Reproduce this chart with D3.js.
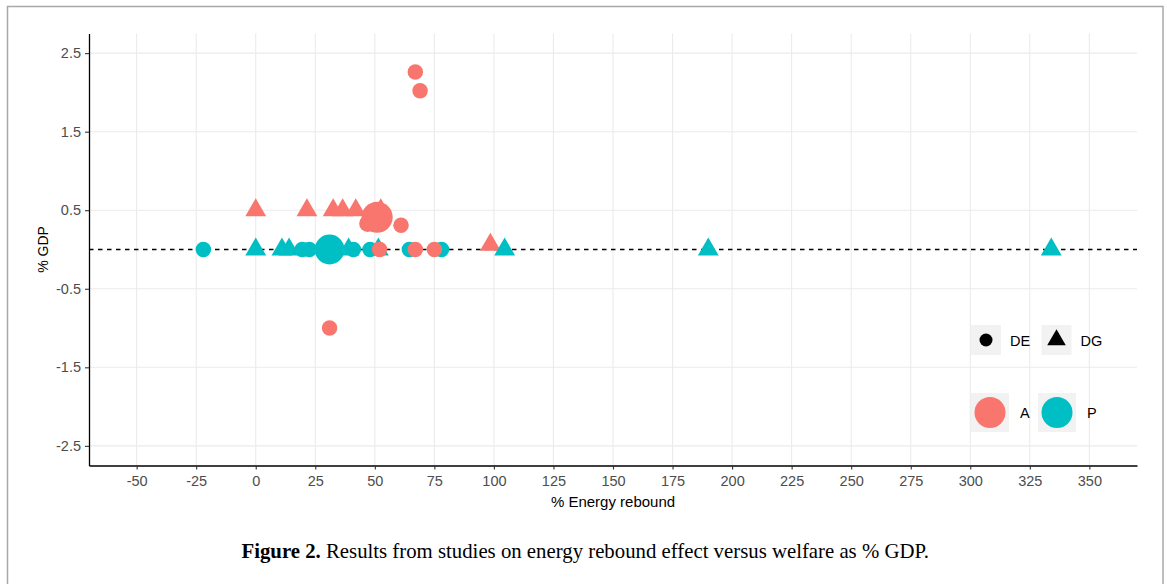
<!DOCTYPE html>
<html>
<head>
<meta charset="utf-8">
<script src="https://cdn.jsdelivr.net/npm/d3@7"></script>
<style>
    body { margin: 0; background: #fff; }
    svg { display: block; }
    .tick text { font-family: "Liberation Sans", Arial, sans-serif; }
</style>
</head>
<body>
<svg id="chart" width="1167" height="584"></svg>
<script>
// Values. Order matters: later rows are drawn on top.
const rebound = [98.5, -22, 0, 11, 14, 19.5, 22.5, 31, 39, 41, 48, 51.5, 64.5, 78, 104.5, 190, 334,
                 67, 69, 0, 21.5, 32.5, 36.5, 42, 52.5, 47, 51, 61, 31, 52, 67, 75];
const gdp     = [0.06, 0, 0, 0, 0, 0, 0, 0, 0, 0, 0, 0, 0, 0, 0, 0, 0,
                 2.26, 2.02, 0.5, 0.5, 0.5, 0.5, 0.5, 0.5, 0.33, 0.41, 0.31, -1, 0, 0, 0];
const group   = ["A", "P", "P", "P", "P", "P", "P", "P", "P", "P", "P", "P", "P", "P", "P", "P", "P",
                 "A", "A", "A", "A", "A", "A", "A", "A", "A", "A", "A", "A", "A", "A", "A"];
const model   = ["DG", "DE", "DG", "DG", "DG", "DE", "DE", "DE", "DG", "DE", "DE", "DG", "DE", "DE", "DG", "DG", "DG",
                 "DE", "DE", "DG", "DG", "DG", "DG", "DG", "DG", "DE", "DE", "DE", "DE", "DE", "DE", "DE"];
const weight  = [1, 1, 1, 1, 1, 1, 1, 3.7, 1, 1, 1, 1, 1, 1, 1, 1, 1,
                 1, 1, 1, 1, 1, 1, 1, 1, 1.2, 4, 1, 1, 1, 1, 1];

const xTicks = [-50, -25, 0, 25, 50, 75, 100, 125, 150, 175, 200, 225, 250, 275, 300, 325, 350];
const yTicks = [-2.5, -1.5, -0.5, 0.5, 1.5, 2.5];
const shapeKeys = ["DE", "DG"];
const colorKeys = ["A", "P"];
const colors = {A: "#F8766D", P: "#00BFC4"};

const points = rebound.map((v, i) => ({x: v, y: gdp[i], group: group[i], model: model[i], w: weight[i]}));

const svg = d3.select("#chart");
const panel = {left: 89, right: 1137, top: 33.5, bottom: 465.5};

const xScale = d3.scaleLinear().domain([-70, 370]).range([panel.left, panel.right]);
const yScale = d3.scaleLinear().domain([-2.75, 2.75]).range([panel.bottom, panel.top]);
const rScale = d3.scaleSqrt().domain([0, 4]).range([0, 15.5]);

// Area of a d3 triangle whose circumradius is 1.555 x the circle radius (like R's pch 17).
const triArea = r => Math.pow(1.555 * r / 2, 2) * 3 * Math.sqrt(3);

// Outer frame of the figure
svg.append("rect")
    .attr("x", 7.5).attr("y", 6.5)
    .attr("width", 1155.5).attr("height", 600)
    .attr("fill", "none")
    .attr("stroke", "#a8a8a8")
    .attr("stroke-width", 1.5);

// Grid
const grid = svg.append("g");
grid.selectAll(".vgrid").data(xTicks).join("line")
    .attr("x1", d => xScale(d)).attr("x2", d => xScale(d))
    .attr("y1", panel.top).attr("y2", panel.bottom)
    .attr("stroke", "#ebebeb").attr("stroke-width", 1.1);
grid.selectAll(".hgrid").data(yTicks).join("line")
    .attr("x1", panel.left).attr("x2", panel.right)
    .attr("y1", d => yScale(d)).attr("y2", d => yScale(d))
    .attr("stroke", "#ebebeb").attr("stroke-width", 1.1);

// Legend (inside the panel, no background so grid shows through)
const legend = svg.append("g");
const shapeRow = legend.selectAll(".shape-key").data(shapeKeys).join("g")
    .attr("transform", (d, i) => `translate(${971 + i * 70.5},325)`);
shapeRow.append("rect").attr("width", 30).attr("height", 30).attr("fill", "#f2f2f2");
shapeRow.append("path")
    .attr("transform", "translate(15,15)")
    .attr("d", d => d === "DE"
        ? d3.symbol(d3.symbolCircle, Math.PI * 6.5 * 6.5)()
        : d3.symbol(d3.symbolTriangle, triArea(6.9))())
    .attr("fill", "#000");
shapeRow.append("text")
    .attr("x", 39).attr("y", 20.5)
    .attr("font-family", "Liberation Sans, Arial, sans-serif")
    .attr("font-size", 14.5)
    .attr("fill", "#000")
    .text(d => d);

const colorRow = legend.selectAll(".color-key").data(colorKeys).join("g")
    .attr("transform", (d, i) => `translate(${971 + i * 67},393)`);
colorRow.append("rect").attr("width", 38).attr("height", 39).attr("fill", "#f2f2f2");
colorRow.append("circle")
    .attr("cx", 19).attr("cy", 19.5).attr("r", 15.5)
    .attr("fill", d => colors[d]);
colorRow.append("text")
    .attr("x", 49).attr("y", 25)
    .attr("font-family", "Liberation Sans, Arial, sans-serif")
    .attr("font-size", 14.5)
    .attr("fill", "#000")
    .text(d => d);

// Zero reference line
svg.append("line")
    .attr("x1", panel.left).attr("x2", panel.right)
    .attr("y1", yScale(0)).attr("y2", yScale(0))
    .attr("stroke", "#000")
    .attr("stroke-width", 1.3)
    .attr("stroke-dasharray", "4.5,4.5");

// Points
svg.append("g").selectAll("path").data(points).join("path")
    .attr("transform", d => `translate(${xScale(d.x)},${yScale(d.y)})`)
    .attr("d", d => {
        let r = rScale(d.w);
        return d.model === "DE"
            ? d3.symbol(d3.symbolCircle, Math.PI * r * r)()
            : d3.symbol(d3.symbolTriangle, triArea(r))();
    })
    .attr("fill", d => colors[d.group]);

// Axes
const xAxis = d3.axisBottom(xScale)
    .tickValues(xTicks)
    .tickSize(4).tickSizeOuter(0).tickPadding(6)
    .tickFormat(d => String(d));
const yAxis = d3.axisLeft(yScale)
    .tickValues(yTicks)
    .tickSize(4).tickSizeOuter(0).tickPadding(4)
    .tickFormat(d => d.toFixed(1));

[svg.append("g").attr("transform", `translate(0,${panel.bottom})`).call(xAxis),
 svg.append("g").attr("transform", `translate(${panel.left},0)`).call(yAxis)]
    .forEach(g => {
        g.select(".domain").attr("stroke", "#000").attr("stroke-width", 1.3);
        g.selectAll(".tick line").attr("stroke", "#333").attr("stroke-width", 1.1);
        g.selectAll(".tick text").attr("font-size", 14.5).attr("fill", "#4d4d4d");
    });

// Axis titles
svg.append("text")
    .attr("x", (panel.left + panel.right) / 2).attr("y", 507)
    .attr("text-anchor", "middle")
    .attr("font-family", "Liberation Sans, Arial, sans-serif")
    .attr("font-size", 15)
    .text("% Energy rebound");
svg.append("text")
    .attr("transform", `translate(48,${(panel.top + panel.bottom) / 2}) rotate(-90)`)
    .attr("text-anchor", "middle")
    .attr("font-family", "Liberation Sans, Arial, sans-serif")
    .attr("font-size", 14)
    .text("% GDP");

// Caption
const caption = svg.append("text")
    .attr("x", 241.5).attr("y", 558)
    .attr("font-family", "Liberation Serif, Times New Roman, serif")
    .attr("font-size", 18)
    .attr("fill", "#000");
caption.append("tspan").attr("font-weight", "bold").text("Figure 2.");
caption.append("tspan").text(" Results from studies on energy rebound effect versus welfare as % GDP.");
// fit the caption to the width it takes in the figure
let capLen = caption.node().getComputedTextLength();
caption.attr("font-size", 18 * 688 / capLen);
</script>
</body>
</html>
